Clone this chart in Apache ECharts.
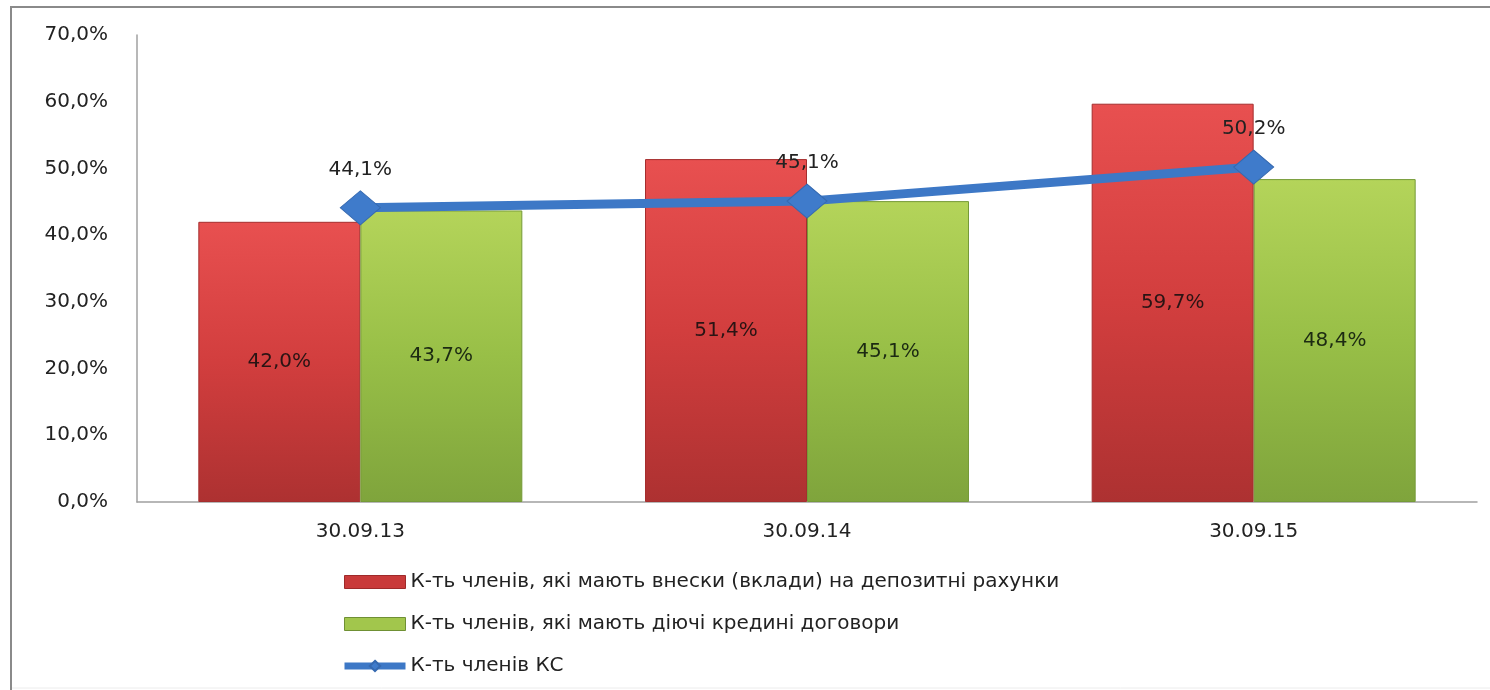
<!DOCTYPE html>
<html><head><meta charset="utf-8">
<script src="https://cdn.jsdelivr.net/npm/echarts@6/dist/echarts.min.js"></script>
<style>html,body{margin:0;padding:0;background:#fff}#c{width:1490px;height:690px}</style>
</head><body><div id="c"></div>
<script>
const categories = ['30.09.13', '30.09.14', '30.09.15'];
const depositValues = [42.0, 51.4, 59.7];
const creditValues = [43.7, 45.1, 48.4];
const membersValues = [44.1, 45.1, 50.2];
const seriesNames = [
  'К-ть членів, які мають внески (вклади) на депозитні рахунки',
  'К-ть членів, які мають діючі кредині договори',
  'К-ть членів КС'
];
const fmt = v => v.toFixed(1).replace('.', ',') + '%';
const FONT = 'DejaVu Sans';
const chart = echarts.init(document.getElementById('c'));
const redGrad = new echarts.graphic.LinearGradient(0, 0, 0, 1, [
  {offset: 0, color: '#e85050'}, {offset: 0.5, color: '#d23e3e'}, {offset: 1, color: '#ad3131'}]);
const greenGrad = new echarts.graphic.LinearGradient(0, 0, 0, 1, [
  {offset: 0, color: '#b4d45a'}, {offset: 0.5, color: '#98bf47'}, {offset: 1, color: '#7fa43c'}]);
chart.setOption({
  animation: false,
  textStyle: {fontFamily: FONT},
  graphic: [
    {type: 'line', shape: {x1: 10, y1: 7, x2: 1490, y2: 7}, style: {stroke: '#8a8a8a', lineWidth: 2}, silent: true},
    {type: 'line', shape: {x1: 11, y1: 6, x2: 11, y2: 690}, style: {stroke: '#8a8a8a', lineWidth: 2}, silent: true},
    {type: 'line', shape: {x1: 12, y1: 688, x2: 1490, y2: 688}, style: {stroke: '#ececec', lineWidth: 1}, silent: true}
  ],
  grid: {left: 137, right: 13, top: 35, bottom: 188},
  legend: {
    orient: 'vertical', left: 336, top: 567, itemGap: 22, itemWidth: 61, itemHeight: 13,
    textStyle: {fontSize: 20, color: '#222', fontFamily: FONT},
    data: [
      {name: seriesNames[0], icon: 'rect', itemStyle: {color: '#c93a3a', borderColor: '#9e2a2a', borderWidth: 1}},
      {name: seriesNames[1], icon: 'rect', itemStyle: {color: '#a2c64c', borderColor: '#6f9034', borderWidth: 1}},
      {name: seriesNames[2], lineStyle: {width: 7, color: '#3d78c6'}}
    ]
  },
  xAxis: {
    type: 'category', data: categories,
    axisLine: {lineStyle: {color: '#a0a0a0', width: 1.5}},
    axisTick: {show: false},
    axisLabel: {fontSize: 20, color: '#222', margin: 20}
  },
  yAxis: {
    type: 'value', min: 0, max: 70, interval: 10,
    axisLine: {show: true, lineStyle: {color: '#a0a0a0', width: 1.5}},
    axisTick: {show: false},
    splitLine: {show: false},
    axisLabel: {fontSize: 20, color: '#222', margin: 29, formatter: v => v.toFixed(1).replace('.', ',') + '%'}
  },
  series: [
    {name: seriesNames[0], type: 'bar', data: depositValues, barWidth: 162, barGap: '0%',
     itemStyle: {color: redGrad, borderColor: '#a52e2e', borderWidth: 1},
     label: {show: true, position: 'inside', fontSize: 20, color: '#2a1414', formatter: p => fmt(p.value)}},
    {name: seriesNames[1], type: 'bar', data: creditValues, barWidth: 162,
     itemStyle: {color: greenGrad, borderColor: '#759a38', borderWidth: 1},
     label: {show: true, position: 'inside', fontSize: 20, color: '#1c2a12', formatter: p => fmt(p.value)}},
    {name: seriesNames[2], type: 'line', data: membersValues, symbol: 'diamond', symbolSize: [40, 34],
     lineStyle: {color: '#3d78c6', width: 9},
     itemStyle: {color: '#3f7bcb', borderColor: '#3569b0', borderWidth: 1},
     label: {show: true, position: 'top', distance: 11, fontSize: 20, color: '#222', formatter: p => fmt(p.value)},
     z: 5}
  ]
});
</script></body></html>
